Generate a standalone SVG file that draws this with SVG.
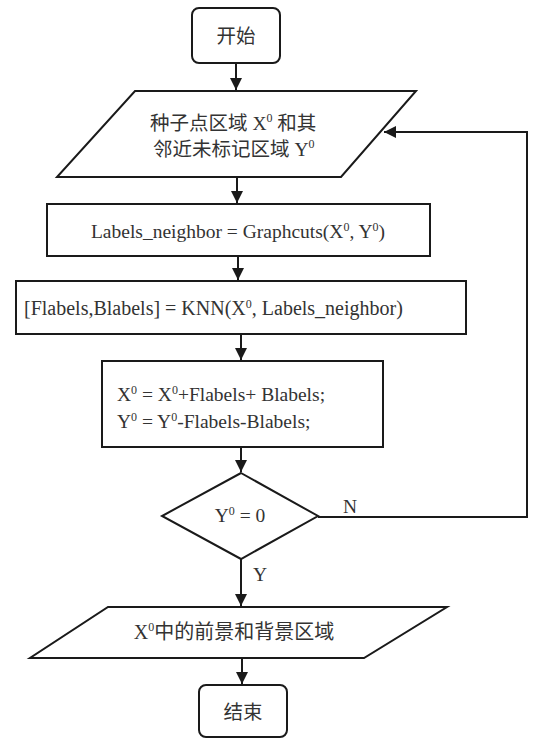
<svg xmlns="http://www.w3.org/2000/svg" width="534" height="740" viewBox="0 0 534 740">
<style>
.s{fill:#fff;stroke:#1a1a1a;stroke-width:2}
.c{fill:none;stroke:#1a1a1a;stroke-width:2}
.t{font-family:"Liberation Serif","Noto Sans CJK SC",serif;font-size:19.5px;fill:#333}
.z{font-family:"Liberation Serif","Noto Sans CJK SC",serif;font-size:19.5px;fill:#333}
.sup{font-size:12px}
</style>
<defs>
<marker id="ah" viewBox="0 0 10 10" refX="10" refY="5" markerWidth="6" markerHeight="6" orient="auto" markerUnits="strokeWidth">
<path d="M0,0 L10,5 L0,10 z" fill="#1a1a1a"/>
</marker>
</defs>
<rect width="534" height="740" fill="#fff"/>
<g id="connectors">
<line class="c" x1="236" y1="63" x2="236" y2="90" marker-end="url(#ah)"/>
<line class="c" x1="237" y1="177" x2="237" y2="203" marker-end="url(#ah)"/>
<line class="c" x1="238" y1="256" x2="238" y2="280" marker-end="url(#ah)"/>
<line class="c" x1="241" y1="334" x2="241" y2="360" marker-end="url(#ah)"/>
<line class="c" x1="241" y1="447" x2="241" y2="472" marker-end="url(#ah)"/>
<line class="c" x1="241" y1="559" x2="241" y2="606" marker-end="url(#ah)"/>
<line class="c" x1="242" y1="658" x2="242" y2="684" marker-end="url(#ah)"/>
<polyline class="c" points="318,517 527,517 527,132 384,132" marker-end="url(#ah)"/>
<text class="t" x="350" y="513" text-anchor="middle">N</text>
<text class="t" x="260" y="581" text-anchor="middle">Y</text>
</g>
<g id="start">
<rect class="s" x="192" y="8" width="88" height="55" rx="7"/>
<text class="z" x="236" y="43" text-anchor="middle">开始</text>
</g>
<g id="input">
<polygon class="s" points="135,91 416,91 341,177 57,177"/>
<text class="z" x="150" y="130">种子点区域 X<tspan class="sup" dy="-8">0</tspan><tspan dy="8"> 和其</tspan></text>
<text class="z" x="153" y="156">邻近未标记区域 Y<tspan class="sup" dy="-8">0</tspan></text>
</g>
<g id="graphcuts">
<rect class="s" x="47" y="204" width="383" height="52"/>
<text class="t" x="238" y="238" text-anchor="middle">Labels_neighbor = Graphcuts(X<tspan class="sup" dy="-7">0</tspan><tspan dy="7">, Y</tspan><tspan class="sup" dy="-7">0</tspan><tspan dy="7">)</tspan></text>
</g>
<g id="knn">
<rect class="s" x="16" y="281" width="450" height="53"/>
<text class="t" x="24" y="315" style="font-size:20px">[Flabels,Blabels] = KNN(X<tspan class="sup" dy="-7">0</tspan><tspan dy="7">, Labels_neighbor)</tspan></text>
</g>
<g id="update">
<rect class="s" x="102" y="361" width="281" height="86"/>
<text class="t" x="117" y="401">X<tspan class="sup" dy="-7">0</tspan><tspan dy="7"> = X</tspan><tspan class="sup" dy="-7">0</tspan><tspan dy="7">+Flabels+ Blabels;</tspan></text>
<text class="t" x="117" y="428">Y<tspan class="sup" dy="-7">0</tspan><tspan dy="7"> = Y</tspan><tspan class="sup" dy="-7">0</tspan><tspan dy="7">-Flabels-Blabels;</tspan></text>
</g>
<g id="decision">
<polygon class="s" points="241,473 318,516 241,559 162,516"/>
<text class="t" x="240" y="522" text-anchor="middle">Y<tspan class="sup" dy="-7">0</tspan><tspan dy="7"> = 0</tspan></text>
</g>
<g id="output">
<polygon class="s" points="108,607 447,607 364,658 30,658"/>
<text class="z" x="234" y="639" text-anchor="middle" style="font-size:20px">X<tspan class="sup" dy="-8">0</tspan><tspan dy="8">中的前景和背景区域</tspan></text>
</g>
<g id="end">
<rect class="s" x="199" y="685" width="88" height="52" rx="7"/>
<text class="z" x="243" y="719" text-anchor="middle">结束</text>
</g>
</svg>
